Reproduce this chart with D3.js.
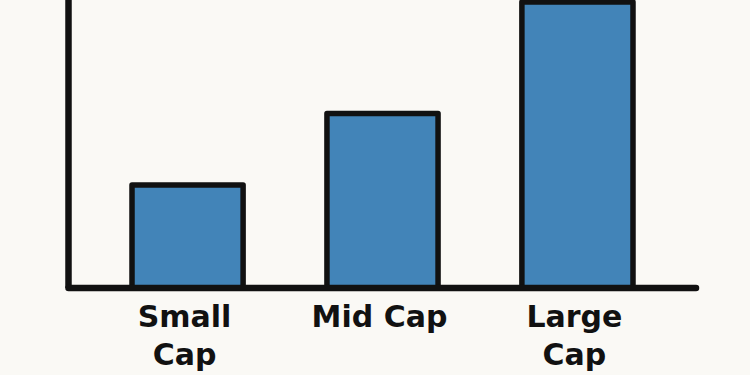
<!DOCTYPE html>
<html>
<head>
<meta charset="utf-8">
<script src="https://cdn.jsdelivr.net/npm/d3@7"></script>
<style>
  html, body { margin: 0; padding: 0; background: #faf9f5; }
  svg { display: block; }
  .label { font-family: "DejaVu Sans", sans-serif; font-weight: bold; font-size: 30px; fill: #111; }
</style>
</head>
<body>
<div id="chart"></div>
<script>
// data
const categories = ["Small Cap", "Mid Cap", "Large Cap"];
const labelLines = [["Small", "Cap"], ["Mid Cap"], ["Large", "Cap"]];
const values = [3.6, 6.1, 10];

const width = 750, height = 375;
const axisX = 68.5, axisY = 288;

const svg = d3.select('#chart')
    .append('svg')
    .attr('width', width)
    .attr('height', height);

const xScale = d3.scaleBand()
    .domain(categories)
    .range([132, 633])
    .paddingInner(0.43)
    .paddingOuter(0);

const yScale = d3.scaleLinear()
    .domain([0, 10])
    .range([axisY, 2]);

// bars
svg.selectAll('rect.bar')
    .data(values)
    .join('rect')
    .attr('class', 'bar')
    .attr('x', (d, i) => xScale(categories[i]))
    .attr('y', d => yScale(d))
    .attr('width', xScale.bandwidth())
    .attr('height', d => axisY - yScale(d))
    .attr('fill', '#4284b8')
    .attr('stroke', '#111')
    .attr('stroke-width', 5.5)
    .attr('stroke-linejoin', 'round');

// axes lines
svg.append('line')
    .attr('x1', axisX).attr('x2', axisX)
    .attr('y1', -5).attr('y2', axisY)
    .attr('stroke', '#111')
    .attr('stroke-width', 6.5);

svg.append('line')
    .attr('x1', axisX).attr('x2', 696)
    .attr('y1', axisY).attr('y2', axisY)
    .attr('stroke', '#111')
    .attr('stroke-width', 6.5)
    .attr('stroke-linecap', 'round');

// category labels
const labels = svg.selectAll('text.label')
    .data(categories)
    .join('text')
    .attr('class', 'label')
    .attr('text-anchor', 'middle')
    .attr('x', d => xScale(d) + xScale.bandwidth() / 2 - 3)
    .attr('y', 327);

labels.selectAll('tspan')
    .data((d, i) => labelLines[i])
    .join('tspan')
    .attr('x', function() { return this.parentNode.getAttribute('x'); })
    .attr('dy', (d, i) => i === 0 ? 0 : 38)
    .text(d => d);
</script>
</body>
</html>
